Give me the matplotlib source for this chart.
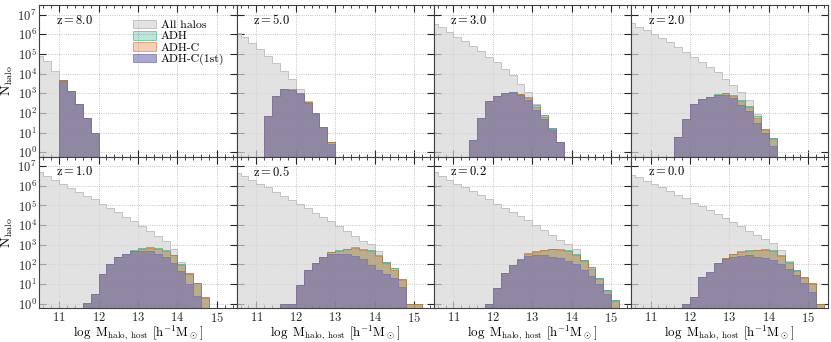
import numpy as np
import matplotlib
matplotlib.use("Agg")
import matplotlib.pyplot as plt
from matplotlib.ticker import MultipleLocator, NullLocator, LogFormatterMathtext

plt.rcParams.update({
    "font.family": "serif",
    "font.serif": ["cmr10"],
    "mathtext.fontset": "cm",
    "axes.unicode_minus": False,
    "axes.formatter.use_mathtext": True,
})

# bins of 0.2 dex in log host halo mass
BIN_EDGES = np.round(np.arange(10.4, 15.61, 0.2), 2)

REDSHIFTS = ["8.0", "5.0", "3.0", "2.0", "1.0", "0.5", "0.2", "0.0"]

# counts per bin (26 bins from 10.4 to 15.6), one row per redshift
ALL_HALOS = [
    [8e4, 4.3e4, 1.4e4, 4.6e3, 1.3e3, 300, 55, 9, 0, 0, 0, 0, 0, 0, 0, 0, 0, 0, 0, 0, 0, 0, 0, 0, 0, 0],
    [1.1e6, 7e5, 3.7e5, 1.7e5, 8e4, 3.3e4, 1.3e4, 5e3, 1.7e3, 400, 100, 20, 3.4, 0, 0, 0, 0, 0, 0, 0, 0, 0, 0, 0, 0, 0],
    [3.3e6, 2.2e6, 1.26e6, 7.5e5, 4.5e5, 2.6e5, 1.45e5, 7.2e4, 4e4, 1.8e4, 8.3e3, 3.1e3, 1.17e3, 300, 80, 17, 3.2, 0, 0, 0, 0, 0, 0, 0, 0, 0],
    [3.9e6, 2.4e6, 1.66e6, 1e6, 6.7e5, 3.9e5, 2.3e5, 1.3e5, 7.2e4, 4e4, 2.2e4, 1.2e4, 5.6e3, 2.6e3, 1.17e3, 470, 90, 15.5, 5.4, 0, 0, 0, 0, 0, 0, 0],
    [4.9e6, 3.3e6, 2e6, 1.2e6, 7.4e5, 4.9e5, 3.1e5, 2.1e5, 1.24e5, 7.1e4, 4.6e4, 2.7e4, 1.6e4, 8.9e3, 4.9e3, 2.9e3, 1.5e3, 600, 130, 35, 12, 2.2, 0, 0, 0, 0],
    [4.5e6, 3e6, 2e6, 1.23e6, 8.3e5, 4.9e5, 3.1e5, 1.9e5, 1.15e5, 7.8e4, 4.3e4, 2.6e4, 1.6e4, 8.9e3, 4.9e3, 2.9e3, 1.6e3, 1.1e3, 455, 140, 63, 18, 1, 1, 0, 0],
    [4.9e6, 3e6, 2e6, 1.23e6, 8.3e5, 5.1e5, 3.3e5, 2.1e5, 1.23e5, 7.8e4, 4.8e4, 2.9e4, 1.8e4, 1e4, 5.9e3, 3.3e3, 1.8e3, 1.1e3, 630, 170, 70, 20, 5, 1.5, 0, 0],
    [3.7e6, 2.7e6, 1.8e6, 1.23e6, 8.3e5, 5.1e5, 3.5e5, 2.3e5, 1.4e5, 9.3e4, 5.9e4, 3.8e4, 2.3e4, 1.4e4, 8.9e3, 5.2e3, 3.3e3, 2e3, 1.2e3, 550, 150, 52, 23, 11, 1, 0],
]
ADH = [
    [0, 0, 0, 4.6e3, 1.3e3, 300, 55, 9, 0, 0, 0, 0, 0, 0, 0, 0, 0, 0, 0, 0, 0, 0, 0, 0, 0, 0],
    [0, 0, 0, 0, 69, 730, 1.7e3, 1.55e3, 1.07e3, 380, 100, 20, 3.4, 0, 0, 0, 0, 0, 0, 0, 0, 0, 0, 0, 0, 0],
    [0, 0, 0, 0, 0, 4.3, 57, 400, 730, 1.04e3, 1.1e3, 950, 650, 240, 75, 17, 3.2, 0, 0, 0, 0, 0, 0, 0, 0, 0],
    [0, 0, 0, 0, 0, 0, 5.9, 50, 270, 510, 650, 880, 1.05e3, 790, 440, 215, 66, 15.5, 5.4, 0, 0, 0, 0, 0, 0, 0],
    [0, 0, 0, 0, 0, 0, 1.07, 3.3, 31, 100, 235, 350, 510, 680, 730, 680, 510, 310, 100, 35, 12, 2.2, 0, 0, 0, 0],
    [0, 0, 0, 0, 0, 0, 1, 1, 8.8, 52, 115, 230, 450, 510, 625, 730, 625, 550, 310, 140, 63, 18, 1, 1, 0, 0],
    [0, 0, 0, 0, 0, 0, 0, 1, 6.4, 35, 94, 190, 375, 490, 550, 625, 600, 550, 330, 170, 70, 20, 5, 1.5, 0, 0],
    [0, 0, 0, 0, 0, 0, 0, 1, 2.2, 23, 43, 115, 210, 345, 455, 510, 550, 600, 550, 310, 130, 52, 23, 11, 1, 0],
]
ADH_C = [
    [0, 0, 0, 4.5e3, 1.28e3, 295, 54, 9, 0, 0, 0, 0, 0, 0, 0, 0, 0, 0, 0, 0, 0, 0, 0, 0, 0, 0],
    [0, 0, 0, 0, 69, 730, 1.7e3, 1.5e3, 1.0e3, 360, 95, 19, 3.2, 0, 0, 0, 0, 0, 0, 0, 0, 0, 0, 0, 0, 0],
    [0, 0, 0, 0, 0, 4.3, 57, 400, 730, 1.03e3, 1.08e3, 900, 580, 200, 62, 15, 3.2, 0, 0, 0, 0, 0, 0, 0, 0, 0],
    [0, 0, 0, 0, 0, 0, 5.9, 50, 270, 510, 650, 860, 980, 740, 400, 190, 58, 13, 4.5, 0, 0, 0, 0, 0, 0, 0],
    [0, 0, 0, 0, 0, 0, 1.07, 3.3, 31, 100, 235, 345, 490, 640, 690, 640, 480, 290, 92, 32, 11, 2, 0, 0, 0, 0],
    [0, 0, 0, 0, 0, 0, 1, 1, 8.8, 52, 115, 228, 420, 470, 580, 670, 570, 500, 280, 125, 55, 16, 1, 1, 0, 0],
    [0, 0, 0, 0, 0, 0, 0, 1, 6.4, 35, 94, 185, 340, 450, 510, 580, 560, 500, 300, 150, 62, 18, 4.5, 1.4, 0, 0],
    [0, 0, 0, 0, 0, 0, 0, 1, 2.2, 23, 43, 115, 200, 320, 420, 470, 510, 550, 500, 280, 118, 47, 21, 10, 1, 0],
]
ADH_C_1ST = [
    [0, 0, 0, 4.4e3, 1.25e3, 290, 53, 9, 0, 0, 0, 0, 0, 0, 0, 0, 0, 0, 0, 0, 0, 0, 0, 0, 0, 0],
    [0, 0, 0, 0, 69, 730, 1.7e3, 1.5e3, 890, 330, 85, 19, 2.5, 0, 0, 0, 0, 0, 0, 0, 0, 0, 0, 0, 0, 0],
    [0, 0, 0, 0, 0, 4.3, 57, 400, 730, 1.04e3, 1.1e3, 850, 470, 135, 47, 14, 3.2, 0, 0, 0, 0, 0, 0, 0, 0, 0],
    [0, 0, 0, 0, 0, 0, 5.9, 50, 270, 510, 650, 850, 810, 600, 260, 120, 32, 9.7, 2, 0, 0, 0, 0, 0, 0, 0],
    [0, 0, 0, 0, 0, 0, 1.07, 3.3, 31, 100, 235, 345, 455, 490, 455, 345, 235, 115, 46, 10.7, 2.4, 0, 0, 0, 0, 0],
    [0, 0, 0, 0, 0, 0, 1, 1, 8.8, 52, 115, 225, 330, 345, 330, 270, 190, 94, 52, 31, 21, 7.2, 0, 0, 0, 0],
    [0, 0, 0, 0, 0, 0, 0, 1, 6.4, 35, 94, 170, 280, 310, 310, 250, 207, 150, 100, 50, 25, 10, 3, 0, 0, 0],
    [0, 0, 0, 0, 0, 0, 0, 1, 2.2, 23, 43, 115, 183, 250, 280, 310, 250, 210, 170, 110, 60, 30, 12, 4, 0, 0],
]

# label, data, fill colour, fill alpha, edge colour, edge alpha
SERIES = [
    ("All halos", ALL_HALOS, "#d6d6d6", 0.7, "#bdbdbd", 0.9),
    ("ADH", ADH, "#1b9e77", 0.28, "#1b9e77", 0.5),
    ("ADH-C", ADH_C, "#e0600a", 0.3, "#e0600a", 0.5),
    ("ADH-C(1st)", ADH_C_1ST, "#7570b3", 0.6, "#7570b3", 0.7),
]

BASE = 0.1

fig, axes = plt.subplots(2, 4, figsize=(8.31, 3.42), dpi=100, sharex=True, sharey=True)
fig.subplots_adjust(left=0.0475, right=0.9964, top=0.985, bottom=0.099, wspace=0, hspace=0)

for k, ax in enumerate(axes.flat):
    handles = []
    for label, data, color, alpha, ecolor, ealpha in SERIES:
        vals = np.asarray(data[k], dtype=float)
        vals = np.where(vals > 0, vals, BASE)
        h = ax.stairs(vals, BIN_EDGES, baseline=BASE, fill=True,
                      facecolor=matplotlib.colors.to_rgba(color, alpha),
                      edgecolor=matplotlib.colors.to_rgba(ecolor, ealpha),
                      linewidth=0.7, label=label)
        handles.append(h)

    ax.set_yscale("log")
    ax.set_xlim(10.5, 15.5)
    ax.set_ylim(0.6, 3e7)
    ax.set_yticks([10.0 ** p for p in range(8)])
    ax.yaxis.set_major_formatter(LogFormatterMathtext())
    ax.yaxis.set_minor_locator(NullLocator())
    ax.xaxis.set_major_locator(MultipleLocator(1))
    ax.xaxis.set_minor_locator(MultipleLocator(0.2))
    ax.tick_params(which="both", direction="in", top=True, right=True,
                   labelsize=9, colors="0.15", pad=2)
    ax.tick_params(which="major", length=5, width=0.8)
    ax.tick_params(which="minor", length=2.5, width=0.6)
    ax.grid(True, which="major", ls=":", color="0.7", lw=0.6)
    ax.set_axisbelow(True)
    for sp in ax.spines.values():
        sp.set_color("0.25")
        sp.set_linewidth(0.8)

    ax.text(0.085, 0.9, r"$\mathrm{z = %s}$" % REDSHIFTS[k], transform=ax.transAxes,
            ha="left", va="center", fontsize=9)

    if k == 0:
        ax.legend(handles=handles, loc="upper left", bbox_to_anchor=(0.475, 0.905),
                  frameon=False, fontsize=8.5, handlelength=1.9, handleheight=0.75,
                  labelspacing=0.08, handletextpad=0.45, borderaxespad=0, borderpad=0)

for ax in axes[:, 0]:
    ax.set_ylabel(r"$\mathrm{N_{halo}}$", fontsize=10, labelpad=2)
for ax in axes[1, :]:
    ax.set_xlabel(r"$\log\ \mathrm{M_{halo,\ host}}\ [\mathrm{h^{-1}M_\odot}]$", fontsize=9.3, labelpad=-1)
    ax.set_xticks([11, 12, 13, 14, 15])

fig.savefig("out.png", dpi=100)
